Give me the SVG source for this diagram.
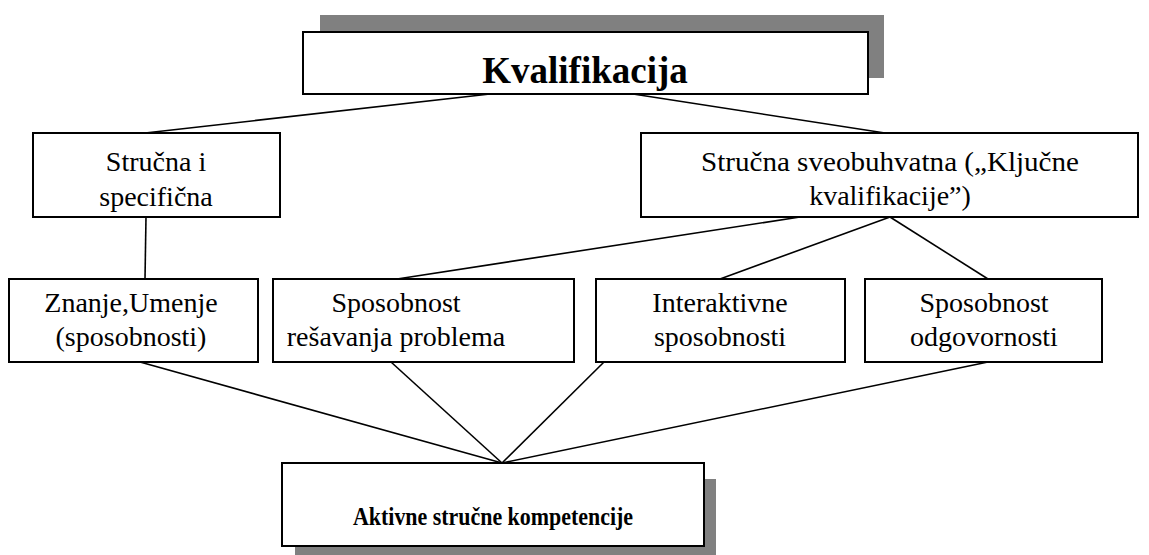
<svg xmlns="http://www.w3.org/2000/svg" width="1149" height="555" viewBox="0 0 1149 555">
<style>
.box{fill:#fff;stroke:#000;stroke-width:2}
.shadow{fill:#808080}
.t{font-size:28px;text-anchor:middle;fill:#000}
.b{font-weight:bold;text-anchor:middle;fill:#000}
.c{stroke:#000;stroke-width:1.6;fill:none}
</style>
<rect width="1149" height="555" fill="#fff"/>
<g id="connectors">
<line class="c" x1="490" y1="94" x2="145" y2="133"/>
<line class="c" x1="633" y1="94" x2="885" y2="133"/>
<line class="c" x1="146" y1="217" x2="145" y2="279"/>
<line class="c" x1="800" y1="217" x2="397" y2="279"/>
<line class="c" x1="890" y1="217" x2="720" y2="279"/>
<line class="c" x1="890" y1="217" x2="988" y2="279"/>
<line class="c" x1="140" y1="362" x2="502" y2="463"/>
<line class="c" x1="391" y1="362" x2="502" y2="463"/>
<line class="c" x1="604" y1="362" x2="502" y2="463"/>
<line class="c" x1="988" y1="362" x2="502" y2="463"/>
</g>
<g font-family="'Liberation Serif', Tinos, 'DejaVu Serif', 'Times New Roman', serif">
<g id="kvalifikacija">
<rect class="shadow" x="320" y="15" width="564" height="63"/>
<rect class="box" x="303" y="32" width="565" height="62"/>
<text class="b" x="585" y="83" font-size="37">Kvalifikacija</text>
</g>
<g id="strucna-specificna">
<rect class="box" x="33" y="133" width="247" height="84"/>
<text class="t" x="156" y="171">Stručna i</text>
<text class="t" x="156" y="206">specifična</text>
</g>
<g id="strucna-sveobuhvatna">
<rect class="box" x="641" y="133" width="497" height="84"/>
<text class="t" x="890" y="171" textLength="378" lengthAdjust="spacingAndGlyphs">Stručna sveobuhvatna („Ključne</text>
<text class="t" x="890" y="205">kvalifikacije”)</text>
</g>
<g id="znanje">
<rect class="box" x="9" y="279" width="249" height="83"/>
<text class="t" x="131" y="312">Znanje,Umenje</text>
<text class="t" x="131" y="346">(sposobnosti)</text>
</g>
<g id="resavanje">
<rect class="box" x="273" y="279" width="301" height="83"/>
<text class="t" x="396" y="312">Sposobnost</text>
<text class="t" x="396" y="346">rešavanja problema</text>
</g>
<g id="interaktivne">
<rect class="box" x="596" y="279" width="249" height="83"/>
<text class="t" x="720" y="312">Interaktivne</text>
<text class="t" x="720" y="346">sposobnosti</text>
</g>
<g id="odgovornost">
<rect class="box" x="865" y="279" width="237" height="83"/>
<text class="t" x="984" y="312">Sposobnost</text>
<text class="t" x="984" y="346">odgovornosti</text>
</g>
<g id="aktivne">
<rect class="shadow" x="295" y="479" width="421" height="80"/>
<rect class="box" x="282" y="463" width="422" height="83"/>
<text class="b" x="493" y="525" font-size="25" textLength="280" lengthAdjust="spacingAndGlyphs">Aktivne stručne kompetencije</text>
</g>
</g>
</svg>
